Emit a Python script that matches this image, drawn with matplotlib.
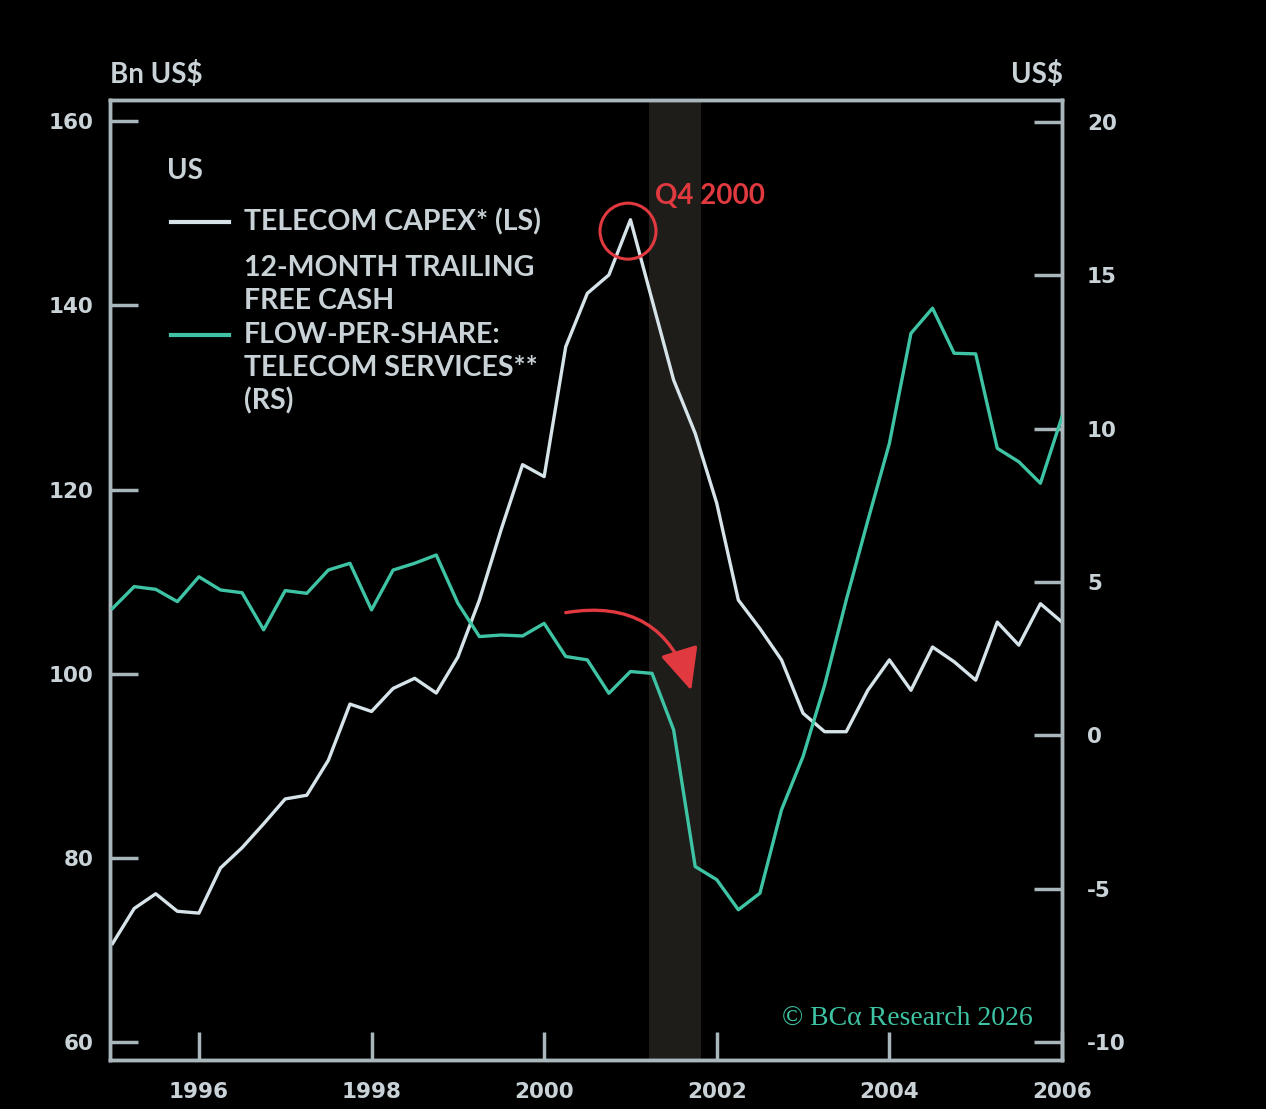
import numpy as np
import matplotlib
matplotlib.use("Agg")
import matplotlib.pyplot as plt
from matplotlib.patches import FancyArrowPatch, Ellipse

# ---------------- data (quarterly, 1995Q1 .. 2006Q1) ----------------
dates = [1995 + 0.25 * k for k in range(45)]

capex = [70.7, 74.5, 76.1, 74.2, 74.0, 78.9, 81.1, 83.7, 86.4, 86.8,
         90.6, 96.7, 95.9, 98.4, 99.5, 97.9, 101.8, 108.0, 115.6, 122.7,
         121.4, 135.5, 141.3, 143.3, 149.3, 140.6, 131.9, 126.1, 118.5, 108.0,
         104.9, 101.5, 95.7, 93.7, 93.7, 98.2, 101.5, 98.2, 102.9, 101.3,
         99.3, 105.6, 103.1, 107.6, 105.6]

fcf = [4.14, 4.85, 4.76, 4.36, 5.17, 4.74, 4.65, 3.44, 4.72, 4.63,
       5.39, 5.61, 4.09, 5.39, 5.61, 5.88, 4.31, 3.22, 3.27, 3.24,
       3.65, 2.57, 2.46, 1.37, 2.08, 2.02, 0.18, -4.28, -4.71, -5.69,
       -5.15, -2.43, -0.69, 1.64, 4.41, 7.0, 9.52, 13.11, 13.93, 12.46,
       12.44, 9.36, 8.92, 8.22, 10.39]

left_ticks = [60, 80, 100, 120, 140, 160]
right_ticks = [-10, -5, 0, 5, 10, 15, 20]
x_ticks = [1996, 1998, 2000, 2002, 2004, 2006]
recession = (2001.22, 2001.82)

# ---------------- style ----------------
BG = "#000000"
TXT = "#c9d3d7"
SPINE = "#a9b6bb"
WHITE_LINE = "#d6e4ea"
TEAL = "#3ec4a4"
RED = "#e0393f"
SHADE = "#1e1d1a"
FONT = ["Lato", "DejaVu Sans"]
TICKFONT = ["DejaVu Sans"]

W, H = 1266, 1109
fig = plt.figure(figsize=(W / 100, H / 100), dpi=100, facecolor=BG)


def fx(px):
    return px / W


def fy(py):
    return 1 - py / H


ax = fig.add_axes([fx(110), fy(1060), fx(1062) - fx(110), fy(100) - fy(1060)])
ax.set_facecolor(BG)
ax2 = ax.twinx()

X0, X1 = 1994.97, 2006.0
ax.set_xlim(X0, X1)
ax.set_ylim(58.05, 162.3)
ax2.set_ylim(-10.59, 20.72)

ax.axvspan(recession[0], recession[1], color=SHADE, zorder=0, lw=0)

ax.plot(dates, capex, color=WHITE_LINE, lw=2.4, zorder=3)
ax2.plot(dates, fcf, color=TEAL, lw=2.4, zorder=3)

for a in (ax, ax2):
    for s in a.spines.values():
        s.set_color(SPINE)
        s.set_linewidth(2.5)

ax.set_yticks(left_ticks)
ax.set_yticklabels([str(v) for v in left_ticks])
ax2.set_yticks(right_ticks)
ax2.set_yticklabels([str(v) for v in right_ticks])
ax.set_xticks(x_ticks)
ax.set_xticklabels([str(v) for v in x_ticks])

ax.tick_params(axis="y", direction="in", length=20, width=2.5, color=SPINE,
               labelcolor=TXT, labelsize=15.5, pad=12)
ax2.tick_params(axis="y", direction="in", length=20, width=2.5, color=SPINE,
                labelcolor=TXT, labelsize=15.5, pad=18)
ax.tick_params(axis="x", direction="in", length=20, width=2.5, color=SPINE,
               labelcolor=TXT, labelsize=15.5, pad=16)
for lab in ax.get_yticklabels() + ax2.get_yticklabels() + ax.get_xticklabels():
    lab.set_family(TICKFONT)
    lab.set_fontweight("bold")


# pixel -> data helpers (for annotations only)
def pdx(px):
    return X0 + (px - 110) / (952 / (X1 - X0))


def pdy(py):
    return 160 - (py - 121) / 9.21


# peak circle & label
ax.add_patch(Ellipse((pdx(628), pdy(231)), width=56 / (952 / (X1 - X0)), height=56 / 9.21,
                     fill=False, edgecolor=RED, lw=2.2, zorder=4))
fig.text(fx(655), fy(196), "Q4 2000", color=RED, fontsize=20, family=FONT,
         fontweight="bold", ha="left", va="center")

arr = FancyArrowPatch((pdx(563), pdy(613)), (pdx(692), pdy(693)),
                      connectionstyle="arc3,rad=-0.45",
                      arrowstyle="-|>,head_length=1.3,head_width=0.6",
                      mutation_scale=20, color=RED, lw=2.4, zorder=5)
ax.add_patch(arr)

# axis unit labels
fig.text(fx(110), fy(75), "Bn US$", color=TXT, fontsize=20, family=FONT,
         fontweight="bold", ha="left", va="center")
fig.text(fx(1063), fy(75), "US$", color=TXT, fontsize=20, family=FONT,
         fontweight="bold", ha="right", va="center")

# legend block
fig.text(fx(167), fy(171), "US", color=TXT, fontsize=20, family=FONT,
         fontweight="bold", ha="left", va="center")
fig.add_artist(plt.Line2D([fx(171), fx(229)], [fy(222), fy(222)], color=WHITE_LINE, lw=3.0))
fig.add_artist(plt.Line2D([fx(171), fx(229)], [fy(335), fy(335)], color=TEAL, lw=3.0))
legend_lines = [(222, "TELECOM CAPEX* (LS)"),
                (268, "12-MONTH TRAILING"),
                (301, "FREE CASH"),
                (335, "FLOW-PER-SHARE:"),
                (368, "TELECOM SERVICES**"),
                (401, "(RS)")]
for py, t in legend_lines:
    fig.text(fx(244), fy(py), t, color=TXT, fontsize=20.5, family=FONT,
             fontweight="bold", ha="left", va="center")

# copyright
fig.text(fx(1033), fy(1018), "© BCα Research 2026", color=TEAL, fontsize=20,
         family=["Liberation Serif", "DejaVu Serif"], ha="right", va="center")

fig.savefig("out.png", dpi=100, facecolor=BG)
